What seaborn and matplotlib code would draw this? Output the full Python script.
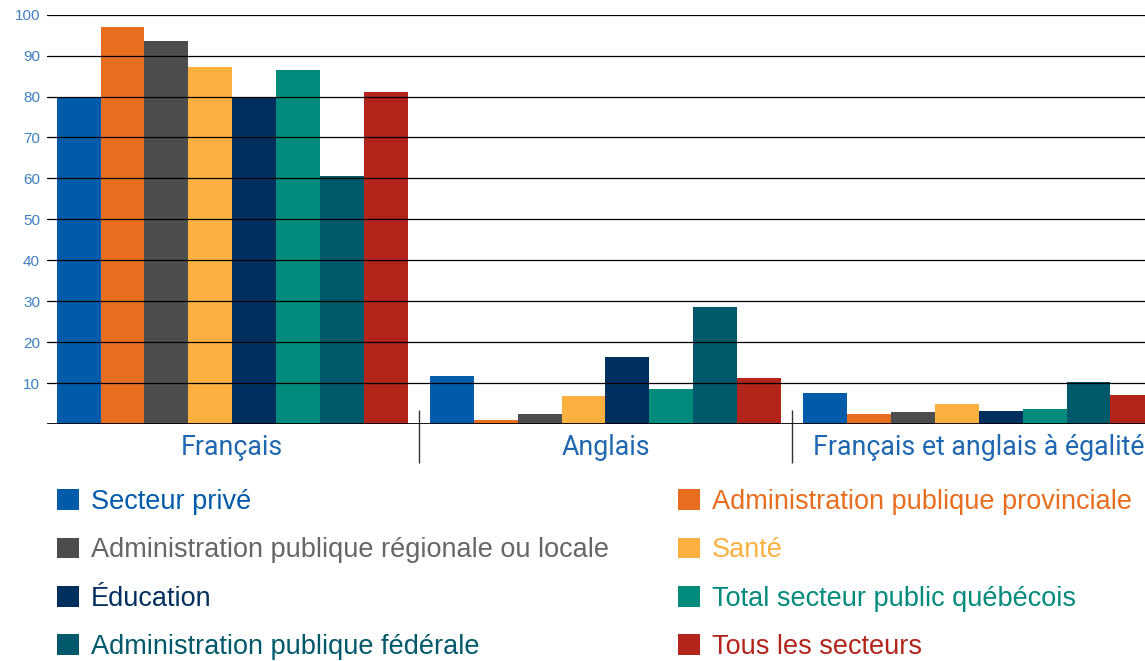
import matplotlib
matplotlib.use("Agg")
import matplotlib.pyplot as plt
from matplotlib.patches import Patch
import pandas as pd
import seaborn as sns

# langue principale
langues = ["Français", "Anglais", "Français et anglais à égalité"]
secteurs = [
    "Secteur privé",
    "Administration publique provinciale",
    "Administration publique régionale ou locale",
    "Santé",
    "Éducation",
    "Total secteur public québécois",
    "Administration publique fédérale",
    "Tous les secteurs",
]
couleurs = ["#005bab", "#e86e1f", "#4d4d4f", "#fbb040",
            "#002f5f", "#008b7d", "#00586b", "#b3241b"]
couleurs_texte = ["#005bab", "#e86e1f", "#666666", "#fbb040",
                  "#002f5f", "#008b7d", "#00586b", "#b3241b"]

francais = [79.9, 96.9, 93.5, 87.1, 79.9, 86.4, 60.6, 81.0]
anglais = [11.8, 1.1, 2.6, 7.0, 16.5, 8.7, 28.7, 11.2]
egalite = [7.6, 2.6, 3.0, 5.0, 3.2, 3.8, 10.3, 7.2]

df = pd.DataFrame({
    "langue": [l for l in langues for _ in secteurs],
    "secteur": secteurs * 3,
    "valeur": francais + anglais + egalite,
})

sns.set_style("white")
plt.rcParams["font.family"] = ["Liberation Sans", "DejaVu Sans"]

fig = plt.figure(figsize=(11.45, 6.61), dpi=100)
ax = fig.add_axes([0.041, 0.358, 0.959, 0.62])

sns.barplot(data=df, x="langue", y="valeur", hue="secteur", order=langues,
            hue_order=secteurs, palette=couleurs, width=0.94, saturation=1,
            gap=0, legend=False, linewidth=0, edgecolor="none", ax=ax, zorder=1)

ax.set_xlim(-0.496, 2.445)
ax.set_ylim(0, 100)
ax.set_yticks(range(10, 101, 10))
for y in range(10, 101, 10):
    ax.axhline(y, color="black", lw=0.9, zorder=3)
ax.axhline(0, color="black", lw=2, zorder=3)
for s in ax.spines.values():
    s.set_visible(False)

ax.tick_params(axis="y", length=0, pad=5, labelsize=11, labelcolor="#3f80c3")
ax.tick_params(axis="x", length=0, pad=7, labelsize=19.3, labelcolor="#1f68b1")
for t in ax.get_xticklabels():
    t.set_fontfamily(["Roboto", "DejaVu Sans"])
ax.set_xlabel("")
ax.set_ylabel("")

# séparateurs entre les groupes
ax.vlines([0.5, 1.5], -9.4, 3.5, color="#333333", lw=1, clip_on=False)

handles = [Patch(facecolor=c, edgecolor="none") for c in couleurs]
ordre = [0, 2, 4, 6, 1, 3, 5, 7]
leg = fig.legend([handles[i] for i in ordre], [secteurs[i] for i in ordre],
                 ncol=2, loc="upper left", bbox_to_anchor=(0.05, 0.26),
                 frameon=False, fontsize=19.5, handlelength=0.8, handleheight=0.8,
                 handletextpad=0.45, columnspacing=2.55, labelspacing=0.82,
                 borderpad=0, borderaxespad=0)
for txt, i in zip(leg.get_texts(), ordre):
    txt.set_color(couleurs_texte[i])

fig.savefig("out.png", dpi=100)
